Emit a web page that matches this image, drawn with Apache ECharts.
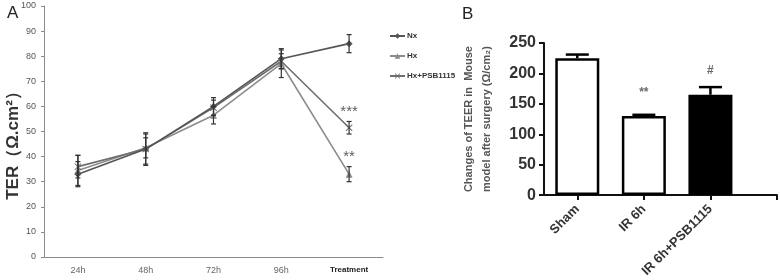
<!DOCTYPE html>
<html>
<head>
<meta charset="utf-8">
<script src="https://cdn.jsdelivr.net/npm/echarts@6/dist/echarts.min.js"></script>
<style>
  html, body { margin: 0; padding: 0; background: #fff; }
  #chart { width: 780px; height: 280px; }
</style>
</head>
<body>
<div id="chart"></div>
<script>
// panel A: TER time course
var timePoints = ['24h', '48h', '72h', '96h', 'Treatment'];
var nxMean = [33, 43, 60, 79, 85];
var nxErr = [5, 6, 3.5, 4, 3.6];
var hxMean = [34.5, 43.5, 56.5, 77, 33];
var hxErr = [6, 4, 3.5, 5.5, 3];
var psbMean = [36, 43, 59.5, 78, 51.5];
var psbErr = [4.5, 6.5, 3, 3, 2.5];
var sigA = [['Treatment', 58, '***'], ['Treatment', 40, '**']];

// panel B: mouse model
var groupsB = ['Sham', 'IR 6h', 'IR 6h+PSB1115'];
var meanB = [225, 130, 165];
var errB = [6, 2, 12.5];
var sigB = [[1, 168, '**'], [2, 204, '#']];

var crossPath = 'path://M0,1L1,0L5,4L9,0L10,1L6,5L10,9L9,10L5,6L1,10L0,9L4,5Z';

function errRows(mean, err) {
	return mean.map(function (m, i) { return [i, m - err[i], m + err[i]]; });
}

function errorBarItem(capHalf, lw, color, upOnly) {
	return function (params, api) {
		var x = api.value(0);
		var lo = api.coord([x, api.value(1)]);
		var hi = api.coord([x, api.value(2)]);
		var st = { stroke: color, lineWidth: lw };
		var kids = [
			{ type: 'line', shape: { x1: hi[0], y1: hi[1], x2: lo[0], y2: lo[1] }, style: st },
			{ type: 'line', shape: { x1: hi[0] - capHalf, y1: hi[1], x2: hi[0] + capHalf, y2: hi[1] }, style: st }
		];
		if (!upOnly) {
			kids.push({ type: 'line', shape: { x1: lo[0] - capHalf, y1: lo[1], x2: lo[0] + capHalf, y2: lo[1] }, style: st });
		}
		return { type: 'group', children: kids };
	};
}

var chart = echarts.init(document.getElementById('chart'));

var lineColors = { nx: '#555555', hx: '#8c8c8c', psb: '#6e6e6e' };

chart.setOption({
	animation: false,
	textStyle: { fontFamily: 'Liberation Sans, Arial, sans-serif' },
	title: [
		{ text: 'A', left: 2, top: 0, textStyle: { fontSize: 17, fontWeight: 'normal', color: '#222' } },
		{ text: 'B', left: 457, top: 1, textStyle: { fontSize: 17, fontWeight: 'normal', color: '#222' } }
	],
	legend: {
		orient: 'vertical',
		left: 384,
		top: 27,
		itemWidth: 15,
		itemHeight: 7,
		itemGap: 12,
		textStyle: { fontSize: 8, fontWeight: 'bold', color: '#333', padding: [0, 0, 0, -3] },
		data: ['Nx', 'Hx', 'Hx+PSB1115']
	},
	grid: [
		{ left: 44, right: 397, top: 6, bottom: 23 },
		{ left: 544, right: 3, top: 43, bottom: 79 }
	],
	xAxis: [
		{
			gridIndex: 0,
			type: 'category',
			data: timePoints,
			axisLine: { lineStyle: { color: '#8a8a8a', width: 1 } },
			axisTick: { length: 3, lineStyle: { color: '#8a8a8a' } },
			axisLabel: {
				interval: 0,
				margin: 9,
				fontSize: 9,
				color: '#666',
				formatter: function (v) { return v === 'Treatment' ? '{b|' + v + '}' : v; },
				rich: { b: { fontSize: 8, fontWeight: 'bold', color: '#222' } }
			}
		},
		{
			gridIndex: 1,
			type: 'value',
			min: -0.5,
			max: 3,
			splitLine: { show: false },
			axisLine: { onZero: false, lineStyle: { color: '#111', width: 2 } },
			axisTick: { length: 5, customValues: [0, 1, 2, 3], lineStyle: { color: '#111', width: 2 } },
			axisLabel: {
				customValues: [0, 1, 2],
				rotate: 45,
				margin: 12,
				fontSize: 13,
				fontWeight: 'bold',
				color: '#333',
				formatter: function (v) { return groupsB[Math.round(v)] || ''; }
			}
		}
	],
	yAxis: [
		{
			gridIndex: 0,
			type: 'value',
			min: 0,
			max: 100,
			interval: 10,
			name: 'TER（Ω.cm²）',
			nameLocation: 'middle',
			nameGap: 22,
			nameMoveOverlap: false,
			nameTextStyle: { fontSize: 17, fontWeight: 'bold', color: '#333', padding: [0, 0, 0, -20] },
			splitLine: { show: false },
			axisLine: { show: true, lineStyle: { color: '#8a8a8a', width: 1 } },
			axisTick: { show: true, length: 3, lineStyle: { color: '#8a8a8a' } },
			axisLabel: { margin: 8, fontSize: 9, color: '#555' }
		},
		{
			gridIndex: 1,
			type: 'value',
			min: 0,
			max: 250,
			interval: 50,
			name: 'Changes of TEER in  Mouse\nmodel after surgery (Ω/cm₂)',
			nameLocation: 'middle',
			nameGap: 48,
			nameMoveOverlap: false,
			nameTextStyle: { fontSize: 11, fontWeight: 'bold', color: '#555', lineHeight: 18 },
			splitLine: { show: false },
			axisLine: { show: true, onZero: false, lineStyle: { color: '#111', width: 2 } },
			axisTick: { show: true, length: 5, lineStyle: { color: '#111', width: 2 } },
			axisLabel: { margin: 8, fontSize: 16, fontWeight: 'bold', color: '#333' }
		}
	],
	series: [
		{
			name: 'Nx', type: 'line', xAxisIndex: 0, yAxisIndex: 0,
			data: nxMean, symbol: 'diamond', symbolSize: 7,
			itemStyle: { color: lineColors.nx },
			lineStyle: { color: lineColors.nx, width: 1.6 }, z: 4
		},
		{
			name: 'Hx', type: 'line', xAxisIndex: 0, yAxisIndex: 0,
			data: hxMean, symbol: 'triangle', symbolSize: 7,
			itemStyle: { color: lineColors.hx },
			lineStyle: { color: lineColors.hx, width: 1.6 }, z: 3
		},
		{
			name: 'Hx+PSB1115', type: 'line', xAxisIndex: 0, yAxisIndex: 0,
			data: psbMean, symbol: crossPath, symbolSize: 7,
			itemStyle: { color: lineColors.psb },
			lineStyle: { color: lineColors.psb, width: 1.6 }, z: 3
		},
		{
			type: 'custom', xAxisIndex: 0, yAxisIndex: 0, z: 5,
			renderItem: errorBarItem(2.5, 1.2, '#333', false),
			data: errRows(nxMean, nxErr).concat(errRows(hxMean, hxErr), errRows(psbMean, psbErr)),
			silent: true
		},
		{
			type: 'scatter', xAxisIndex: 0, yAxisIndex: 0, symbolSize: 0, silent: true,
			data: sigA.map(function (s) { return [s[0], s[1], s[2]]; }),
			label: {
				show: true, position: 'inside', fontSize: 15, color: '#333',
				formatter: function (p) { return p.data[2]; }
			}
		},
		{
			type: 'bar', xAxisIndex: 1, yAxisIndex: 1, barWidth: 44,
			data: meanB.map(function (v, i) {
				return {
					value: [i, v],
					itemStyle: { color: i === 2 ? '#000' : '#fff', borderColor: '#000', borderWidth: 2.5 }
				};
			})
		},
		{
			type: 'custom', xAxisIndex: 1, yAxisIndex: 1, z: 1,
			renderItem: errorBarItem(11.5, 2.5, '#000', true),
			data: meanB.map(function (m, i) { return [i, m, m + errB[i]]; }),
			silent: true
		},
		{
			type: 'scatter', xAxisIndex: 1, yAxisIndex: 1, symbolSize: 0, silent: true,
			data: sigB,
			label: {
				show: true, position: 'inside', fontSize: 12, fontWeight: 'bold', color: '#444',
				formatter: function (p) { return p.data[2]; }
			}
		}
	]
});
</script>
</body>
</html>
